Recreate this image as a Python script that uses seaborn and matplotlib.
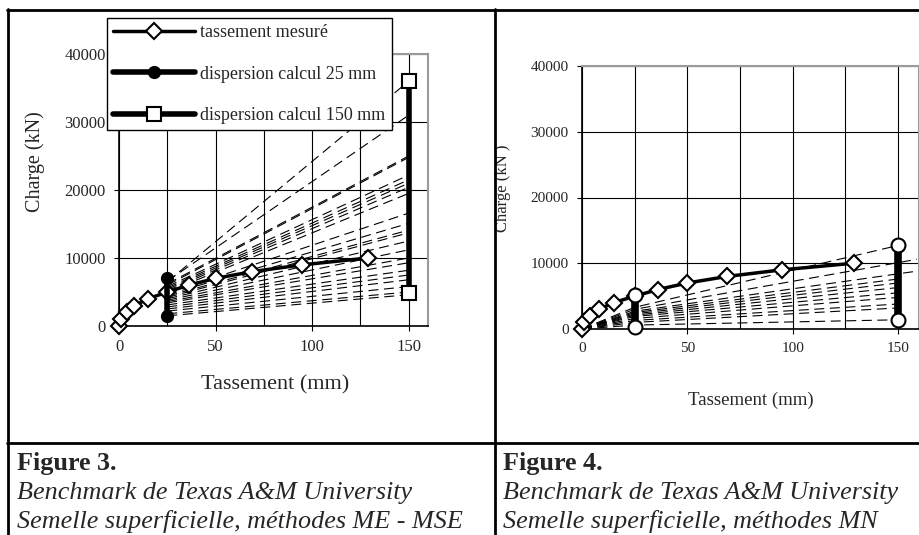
import numpy as np
import pandas as pd
import matplotlib
matplotlib.use("Agg")
import matplotlib.pyplot as plt
import seaborn as sns
from matplotlib.lines import Line2D
from matplotlib.ticker import MultipleLocator

sns.set_style("white")
plt.rcParams["font.family"] = ["Liberation Serif", "DejaVu Serif"]

# ---------------- data ----------------
meas_x = [0, 1, 4, 8, 15, 25, 36, 50, 69, 95, 129]
meas_y = [0, 1000, 2000, 3000, 4000, 5000, 6000, 7000, 8000, 9000, 10000]

# Figure 3 (ME - MSE)
left_disp25 = [1500, 7000]
left_disp150 = [4800, 36000]
left_calc25 = [6500, 6600, 6200, 6000, 5800, 5600, 5400, 5200, 5000, 4800, 4600, 4400,
               4200, 4000, 3800, 3600, 3400, 3100, 2800, 2500, 2200, 1800, 1500]
left_calc150 = [36000, 31000, 25000, 24800, 22200, 21500, 21000, 20400, 19500, 16600, 15100, 14100,
                13700, 12500, 11200, 10000, 9300, 8200, 7500, 6800, 5800, 5000, 4600]

# Figure 4 (MN)
right_disp25 = [300, 5200]
right_disp150 = [1400, 12700]
right_calc25 = [3300, 3000, 2700, 2500, 2300, 2100, 1900, 1600, 1300, 1000, 600]
right_calc_end = [12700, 10600, 8800, 7600, 7000, 6300, 5500, 4800, 3800, 3200, 1400]
right_calc_xend = [150, 159, 159, 150, 150, 150, 150, 150, 150, 150, 150]

W, H = 919, 535
fig = plt.figure(figsize=(W / 100, H / 100), dpi=100)
fig.patch.set_facecolor("white")


def px_axes(x0, y0, x1, y1):
    return fig.add_axes([x0 / W, 1 - y1 / H, (x1 - x0) / W, (y1 - y0) / H])


axL = px_axes(119, 54, 428, 326)
axR = px_axes(582, 66, 919, 329)

dash = (0, (9, 5))


def style_axes(ax, tick_fs):
    ax.set_xlim(0, 160)
    ax.set_ylim(0, 40000)
    ax.xaxis.set_major_locator(MultipleLocator(50))
    ax.xaxis.set_minor_locator(MultipleLocator(25))
    ax.yaxis.set_major_locator(MultipleLocator(10000))
    ax.grid(True, which="both", axis="x", color="k", lw=0.8, zorder=0)
    ax.grid(True, which="major", axis="y", color="k", lw=0.8, zorder=0)
    ax.set_axisbelow(True)
    ax.tick_params(axis="both", which="major", direction="out", length=3.5, width=0.8,
                   color="k", labelsize=tick_fs, pad=6, bottom=True, left=True)
    ax.tick_params(axis="x", which="minor", length=0)
    for s in ["left", "bottom"]:
        ax.spines[s].set_color("k")
        ax.spines[s].set_linewidth(1.2)
    for s in ["top", "right"]:
        ax.spines[s].set_color("#9a9a9a")
        ax.spines[s].set_linewidth(1.5)
    ax.set_facecolor("white")


# ---------- left panel ----------
rows = []
for i, (a, b) in enumerate(zip(left_calc25, left_calc150)):
    rows.append({"x": 25, "y": a, "line": i})
    rows.append({"x": 150, "y": b, "line": i})
dfL = pd.DataFrame(rows)
sns.lineplot(data=dfL, x="x", y="y", units="line", estimator=None, sort=False,
             color="k", lw=0.8, linestyle=dash, ax=axL, legend=False, zorder=2)

sns.lineplot(x=meas_x, y=meas_y, estimator=None, sort=False, color="k", lw=2.5,
             marker="D", markersize=8.5, markerfacecolor="white", markeredgecolor="k",
             markeredgewidth=1.5, ax=axL, label="tassement mesuré", zorder=4)
sns.lineplot(x=[25, 25], y=left_disp25, estimator=None, sort=False, color="k", lw=4,
             marker="o", markersize=8.5, markerfacecolor="k", markeredgecolor="k",
             markeredgewidth=1, ax=axL, label="dispersion calcul 25 mm", zorder=5)
sns.lineplot(x=[150, 150], y=left_disp150, estimator=None, sort=False, color="k", lw=4,
             marker="s", markersize=10, markerfacecolor="white", markeredgecolor="k",
             markeredgewidth=1.5, ax=axL, label="dispersion calcul 150 mm", zorder=5)
style_axes(axL, 12)
axL.set_xlabel("Tassement (mm)", fontsize=16)
axL.set_ylabel("Charge (kN)", fontsize=14.5)
axL.xaxis.set_label_coords((275 - 119) / 309, -(385 - 326) / 272)
axL.xaxis.label.set_va("center")
axL.yaxis.set_label_coords((35 - 119) / 309, (326 - 162) / 272)
axL.yaxis.label.set_va("center")

handles, labels = axL.get_legend_handles_labels()
axL.get_legend().remove()
fig.legend(handles, labels, loc="upper left", bbox_to_anchor=(107 / W, 1 - 18 / H),
           frameon=True, fancybox=False, edgecolor="k", framealpha=1, fontsize=13,
           handlelength=4.5, handletextpad=0.3, labelspacing=1.35, borderpad=0.35,
           borderaxespad=0)

# ---------- right panel ----------
rows = []
for i, (a, b, xe) in enumerate(zip(right_calc25, right_calc_end, right_calc_xend)):
    rows.append({"x": 0, "y": 0, "line": i})
    rows.append({"x": 25, "y": a, "line": i})
    rows.append({"x": xe, "y": b, "line": i})
dfR = pd.DataFrame(rows)
sns.lineplot(data=dfR, x="x", y="y", units="line", estimator=None, sort=False,
             color="k", lw=0.8, linestyle=dash, ax=axR, legend=False, zorder=2)
sns.lineplot(x=meas_x, y=meas_y, estimator=None, sort=False, color="k", lw=2.5,
             marker="D", markersize=8.5, markerfacecolor="white", markeredgecolor="k",
             markeredgewidth=1.5, ax=axR, legend=False, zorder=4)
sns.lineplot(x=[25, 25], y=right_disp25, estimator=None, sort=False, color="k", lw=5.5,
             marker="o", markersize=10, markerfacecolor="white", markeredgecolor="k",
             markeredgewidth=1.5, ax=axR, legend=False, zorder=5)
sns.lineplot(x=[150, 150], y=right_disp150, estimator=None, sort=False, color="k", lw=5.5,
             marker="o", markersize=10, markerfacecolor="white", markeredgecolor="k",
             markeredgewidth=1.5, ax=axR, legend=False, zorder=5)
style_axes(axR, 11)
axR.set_xlabel("Tassement (mm)", fontsize=13.5)
axR.set_ylabel("Charge (kN )", fontsize=12)
axR.xaxis.set_label_coords((751 - 582) / 337, -(400 - 329) / 263)
axR.xaxis.label.set_va("center")
axR.yaxis.set_label_coords((503 - 582) / 337, (329 - 188) / 263)
axR.yaxis.label.set_va("center")
for a in (axL, axR):
    for ln in a.lines:
        if ln.get_marker() not in (None, "None", ""):
            ln.set_clip_on(False)

# ---------- table borders ----------
def hline(y, x0, x1, lw=2):
    fig.add_artist(Line2D([x0 / W, x1 / W], [1 - y / H, 1 - y / H], transform=fig.transFigure,
                          color="k", lw=lw))


def vline(x, y0, y1, lw=2):
    fig.add_artist(Line2D([x / W, x / W], [1 - y0 / H, 1 - y1 / H], transform=fig.transFigure,
                          color="k", lw=lw))


hline(9.5, 6.5, W)
hline(443, 6.5, W)
vline(7.5, 9, H)
vline(494.5, 9, H)

# ---------- captions ----------
cap_fs = 18.8
fig.text(17 / W, 1 - 470 / H, "Figure 3.", fontsize=cap_fs, fontweight="bold", va="baseline")
fig.text(17 / W, 1 - 499 / H, "Benchmark de Texas A&M University", fontsize=cap_fs,
         style="italic", va="baseline")
fig.text(17 / W, 1 - 528 / H, "Semelle superficielle, méthodes ME - MSE", fontsize=cap_fs,
         style="italic", va="baseline")
fig.text(503 / W, 1 - 470 / H, "Figure 4.", fontsize=cap_fs, fontweight="bold", va="baseline")
fig.text(503 / W, 1 - 499 / H, "Benchmark de Texas A&M University", fontsize=cap_fs,
         style="italic", va="baseline")
fig.text(503 / W, 1 - 528 / H, "Semelle superficielle, méthodes MN", fontsize=cap_fs,
         style="italic", va="baseline")

fig.savefig("out.png", dpi=100, facecolor="white")
